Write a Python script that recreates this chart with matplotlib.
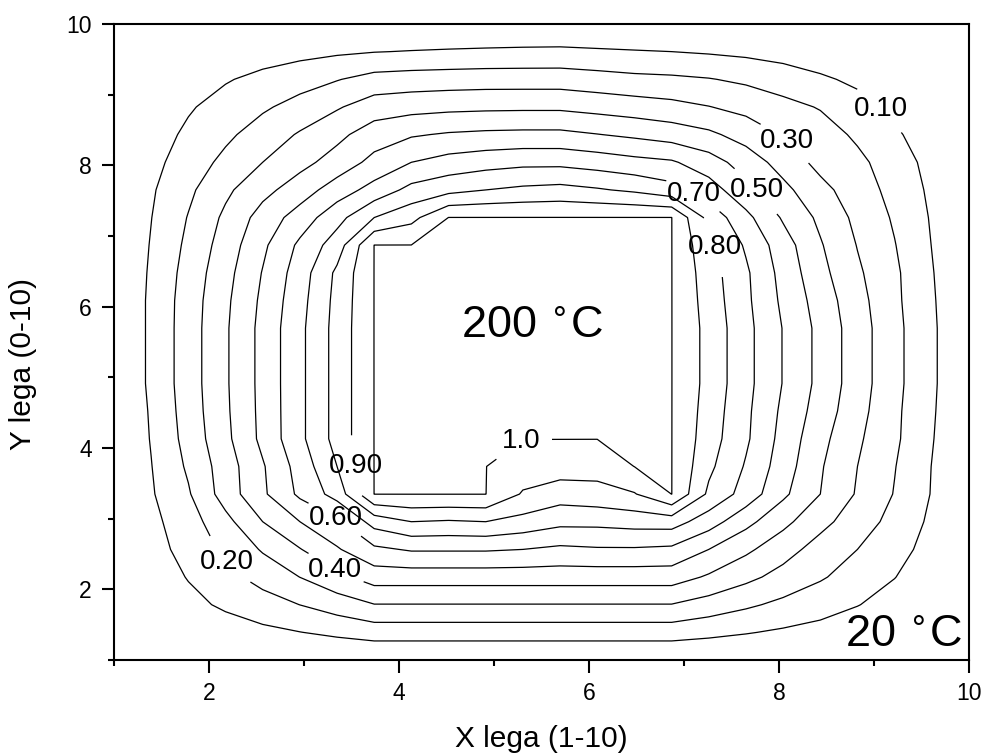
import numpy as np
import matplotlib
matplotlib.use("Agg")
import matplotlib.pyplot as plt

plt.rcParams['font.family'] = ['Liberation Sans', 'DejaVu Sans']

# grid nodes of the measured field (X lega, Y lega)
x_nodes = [1.000, 1.391, 1.783, 2.174, 2.565, 2.957, 3.348, 3.739, 4.130, 4.522, 4.913, 5.304,
           5.696, 6.087, 6.478, 6.870, 7.261, 7.652, 8.043, 8.435, 8.826, 9.217, 9.609, 10.000]
y_nodes = list(x_nodes)

# normalised temperature (0 = 20 C, 1 = 200 C), one row per y node, bottom row first
z_rows = [
    [0, 0, 0, 0, 0, 0, 0, 0, 0, 0, 0, 0, 0, 0, 0, 0, 0, 0, 0, 0, 0, 0, 0, 0],
    [0, .018, .037, .056, .077, .098, .121, .145, .145, .145, .145, .145, .145, .145, .145, .145, .126, .106, .086, .068, .050, .033, .017, 0],
    [0, .036, .075, .115, .157, .201, .248, .297, .297, .297, .297, .297, .297, .297, .297, .297, .258, .217, .177, .140, .103, .068, .035, 0],
    [0, .049, .105, .170, .236, .301, .373, .446, .446, .446, .446, .446, .446, .446, .446, .446, .387, .326, .266, .211, .155, .102, .052, 0],
    [0, .062, .135, .220, .310, .395, .490, .580, .610, .610, .610, .600, .580, .590, .590, .580, .500, .420, .340, .260, .200, .135, .066, 0],
    [0, .075, .155, .270, .400, .500, .580, .740, .800, .790, .800, .767, .727, .727, .740, .745, .647, .530, .427, .330, .248, .169, .081, 0],
    [0, .090, .190, .345, .483, .620, .740, 1, 1, 1, 1, .890, .847, .864, .894, 1, .780, .660, .520, .400, .290, .195, .095, 0],
    [0, .097, .215, .350, .490, .640, .800, 1, 1, 1, 1, .958, .950, .941, 1, 1, .822, .690, .550, .410, .300, .204, .098, 0],
    [0, .105, .235, .375, .525, .676, .836, 1, 1, 1, 1, 1, 1, 1, 1, 1, .846, .716, .566, .430, .316, .218, .106, 0],
    [0, .110, .245, .383, .528, .676, .836, 1, 1, 1, 1, 1, 1, 1, 1, 1, .857, .721, .580, .456, .335, .221, .112, 0],
    [0, .118, .251, .387, .530, .676, .836, 1, 1, 1, 1, 1, 1, 1, 1, 1, .868, .730, .596, .472, .347, .228, .117, 0],
    [0, .118, .251, .387, .530, .676, .836, 1, 1, 1, 1, 1, 1, 1, 1, 1, .868, .730, .596, .472, .347, .228, .117, 0],
    [0, .118, .251, .387, .530, .676, .836, 1, 1, 1, 1, 1, 1, 1, 1, 1, .868, .730, .596, .472, .347, .228, .117, 0],
    [0, .118, .248, .380, .520, .665, .830, 1, 1, 1, 1, 1, 1, 1, 1, 1, .857, .721, .580, .456, .335, .221, .112, 0],
    [0, .113, .238, .366, .505, .650, .820, 1, 1, 1, 1, 1, 1, 1, 1, 1, .846, .716, .566, .430, .316, .218, .106, 0],
    [0, .106, .222, .345, .480, .620, .750, 1, 1, 1, 1, 1, 1, 1, 1, 1, .822, .687, .546, .409, .296, .204, .098, 0],
    [0, .098, .205, .320, .440, .545, .665, .800, .870, 1, 1, 1, 1, 1, 1, 1, .766, .628, .488, .379, .275, .188, .091, 0],
    [0, .088, .180, .280, .370, .450, .550, .636, .730, .770, .800, .820, .831, .810, .783, .737, .647, .530, .427, .330, .248, .169, .081, 0],
    [0, .071, .148, .225, .300, .370, .440, .530, .600, .638, .660, .675, .675, .655, .630, .612, .545, .455, .360, .270, .225, .147, .070, 0],
    [0, .056, .118, .180, .245, .310, .375, .450, .490, .510, .520, .524, .524, .503, .481, .455, .420, .360, .293, .248, .182, .113, .055, 0],
    [0, .043, .090, .137, .186, .235, .290, .350, .365, .375, .380, .382, .382, .365, .348, .330, .303, .270, .232, .193, .130, .080, .040, 0],
    [0, .029, .060, .092, .126, .160, .195, .235, .245, .250, .254, .254, .254, .240, .225, .218, .205, .182, .148, .113, .083, .055, .028, 0],
    [0, .013, .027, .041, .055, .070, .085, .097, .104, .110, .115, .119, .121, .113, .106, .100, .090, .078, .064, .050, .036, .023, .011, 0],
    [0, 0, 0, 0, 0, 0, 0, 0, 0, 0, 0, 0, 0, 0, 0, 0, 0, 0, 0, 0, 0, 0, 0, 0],
]

# contour levels (the top one sits just under the plateau value) and their labels
levels = [0.10, 0.20, 0.30, 0.40, 0.50, 0.60, 0.70, 0.80, 0.90, 0.999]
level_names = ['0.10', '0.20', '0.30', '0.40', '0.50', '0.60', '0.70', '0.80', '0.90', '1.0']
label_spots = [(9.06, 8.78), (2.19, 2.39), (8.04, 8.29), (3.35, 2.33), (7.77, 7.65),
               (3.32, 2.97), (7.13, 7.65), (7.31, 6.84), (3.57, 3.75), (5.29, 4.10)]

fig = plt.figure(figsize=(9.85, 7.56), dpi=100)
ax = fig.add_axes([114 / 985, 96 / 756, 855 / 985, 636 / 756])

X, Y = np.meshgrid(x_nodes, y_nodes)
Z = np.array(z_rows)
cs = ax.contour(X, Y, Z, levels=levels, colors='black', linewidths=0.9)

# one label per level, placed on that level's line only
fmt = {lev: name for lev, name in zip(cs.levels, level_names)}
cs.clabel(fmt=fmt, fontsize=20, inline=True, inline_spacing=4, manual=[])
for k in range(len(cs.levels)):
    cs.labelIndiceList = [k]
    cs.add_label_near(label_spots[k][0], label_spots[k][1], inline=True, inline_spacing=4)
for t in cs.labelTexts:
    t.set_rotation(0)

ax.text(5.40, 5.54, '200 $^{\\circ}$C', fontsize=32.5, ha='center', va='baseline')
ax.text(9.93, 1.18, '20 $^{\\circ}$C', fontsize=32.5, ha='right', va='baseline')

ax.set_xlim(1, 10)
ax.set_ylim(1, 10)
ax.set_xticks([2, 4, 6, 8, 10])
ax.set_yticks([2, 4, 6, 8, 10])
ax.set_xticks([1, 3, 5, 7, 9], minor=True)
ax.set_yticks([1, 3, 5, 7, 9], minor=True)
ax.tick_params(which='major', direction='out', length=9, width=1.5, labelsize=16.5, pad=7)
ax.tick_params(which='minor', direction='out', length=4.5, width=1.5)
ax.tick_params(top=False, right=False, which='both')
for sp in ax.spines.values():
    sp.set_linewidth(1.5)

ax.set_xlabel('X lega (1-10)', fontsize=21.5)
ax.set_ylabel('Y lega (0-10)', fontsize=21.5)
ax.xaxis.set_label_coords(0.5, -0.102)
ax.yaxis.set_label_coords(-0.09, 0.465)

fig.savefig('out.png', dpi=100)
